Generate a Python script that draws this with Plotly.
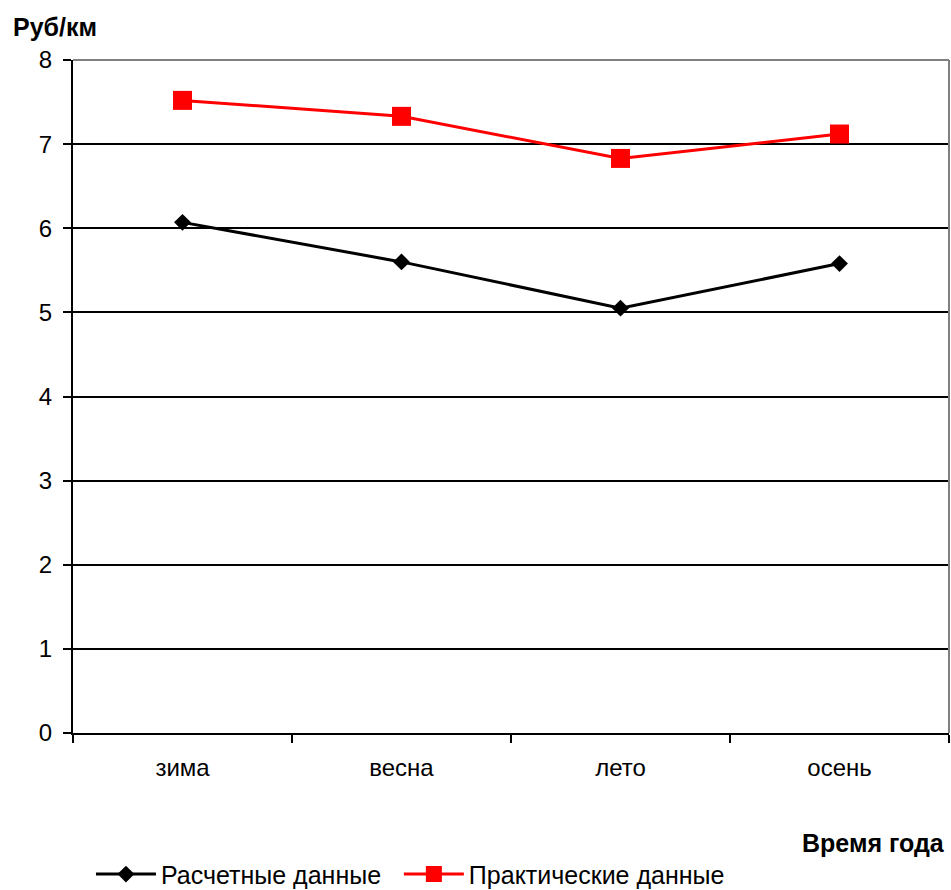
import plotly.graph_objects as go

seasons = ["зима", "весна", "лето", "осень"]
calculated = [6.07, 5.60, 5.05, 5.58]
practical = [7.52, 7.33, 6.83, 7.12]
y_ticks = [0, 1, 2, 3, 4, 5, 6, 7, 8]

font_family = "Liberation Sans, Arial, sans-serif"

fig = go.Figure()
fig.add_trace(go.Scatter(
    x=seasons, y=calculated, name="Расчетные данные", mode="lines+markers",
    line=dict(color="black", width=3),
    marker=dict(symbol="diamond", size=13, color="black"),
    legend="legend",
))
fig.add_trace(go.Scatter(
    x=seasons, y=practical, name="Практические данные", mode="lines+markers",
    line=dict(color="#ff0000", width=3),
    marker=dict(symbol="square", size=19, color="#ff0000"),
    legend="legend2",
))

legend_style = dict(orientation="h", xanchor="left", y=-0.21, yanchor="middle",
                    font=dict(size=25), itemwidth=60, bgcolor="rgba(0,0,0,0)")

fig.update_layout(
    width=951, height=890,
    margin=dict(l=73, r=2, t=60, b=157, autoexpand=False),
    paper_bgcolor="white", plot_bgcolor="white",
    font=dict(family=font_family, size=24, color="black"),
    showlegend=True,
    legend=dict(x=0.0205, **legend_style),
    legend2=dict(x=0.372, **legend_style),
    xaxis=dict(
        type="category", range=[-0.5, 3.5], showgrid=False,
        showline=True, linecolor="black", linewidth=2,
        ticks="outside", tickson="boundaries", ticklen=8, tickcolor="black", tickwidth=2,
        tickfont=dict(size=24), ticklabelstandoff=12, fixedrange=True,
    ),
    yaxis=dict(
        range=[0, 8], tickvals=y_ticks, showgrid=True, gridcolor="black", gridwidth=2,
        showline=True, linecolor="black", linewidth=2, zeroline=False,
        ticks="outside", ticklen=8, tickcolor="black", tickwidth=2,
        tickfont=dict(size=24), ticklabelstandoff=6,
    ),
    shapes=[
        dict(type="line", xref="paper", yref="paper", x0=0, x1=1, y0=1, y1=1,
             line=dict(color="#808080", width=2), layer="above"),
        dict(type="line", xref="paper", yref="paper", x0=1, x1=1, y0=0, y1=1,
             line=dict(color="#808080", width=2), layer="above"),
    ],
    annotations=[
        dict(text="<b>Руб/км</b>", xref="paper", yref="paper", x=-0.0705, y=1.049,
             xanchor="left", yanchor="middle", showarrow=False, font=dict(size=25)),
        dict(text="<b>Время года</b>", xref="paper", yref="paper", x=0.998, y=-0.1634,
             xanchor="right", yanchor="middle", showarrow=False, font=dict(size=25)),
    ],
)

fig.write_html("out.html")
